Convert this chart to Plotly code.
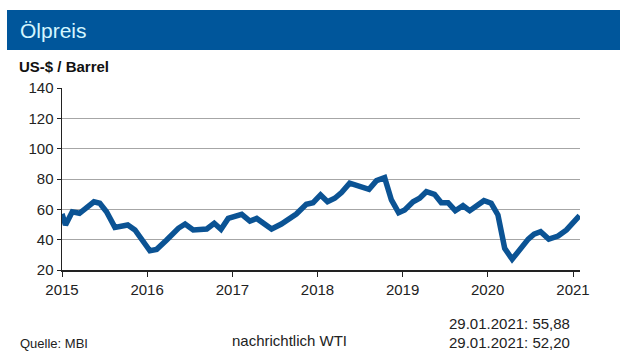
import plotly.graph_objects as go

dates = ["2015-01-01","2015-01-16","2015-02-14","2015-03-17","2015-05-18","2015-06-12","2015-07-11",
         "2015-08-16","2015-10-10","2015-11-10","2016-01-13","2016-02-11","2016-03-25","2016-05-14",
         "2016-06-12","2016-07-17","2016-09-13","2016-10-15","2016-11-13","2016-12-14","2017-02-10",
         "2017-03-17","2017-04-15","2017-06-18","2017-07-30","2017-10-02","2017-11-14","2017-12-13",
         "2018-01-14","2018-02-13","2018-03-16","2018-04-14","2018-05-19","2018-07-01","2018-08-10",
         "2018-09-11","2018-10-16","2018-11-14","2018-12-15","2019-01-10","2019-02-15","2019-03-15",
         "2019-04-13","2019-05-18","2019-06-16","2019-07-15","2019-08-15","2019-09-17","2019-10-16",
         "2019-12-16","2020-01-16","2020-02-14","2020-03-14","2020-04-15","2020-05-18","2020-06-23",
         "2020-07-18","2020-08-15","2020-09-19","2020-10-29","2020-12-04","2021-01-29"]
brent = [57, 49.7, 58.4, 57.4, 65, 64, 58.4,
         48.1, 49.7, 46.4, 32.7, 33.6, 39.8, 47.5,
         50.3, 46.4, 47, 50.8, 46.8, 54, 56.7,
         52.3, 54, 47, 50.3, 56.9, 63.3, 64.4,
         69.5, 65, 67.3, 71, 77.2, 75.4, 73.2,
         78.9, 80.9, 66.2, 57.8, 59.6, 65, 67.3,
         71.6, 69.9, 64.4, 64.4, 59.1, 62.4, 59.1,
         65.7, 64, 56.3, 34.3, 27.1, 33.6, 40.4,
         43.7, 45.3, 40.4, 42.4, 46.4, 55.88]

year_ticks = ["2015-01-01","2016-01-01","2017-01-01","2018-01-01","2019-01-01","2020-01-01","2021-01-01"]
year_labels = ["2015","2016","2017","2018","2019","2020","2021"]
y_ticks = [20, 40, 60, 80, 100, 120, 140]

FONT = "Liberation Sans, Arial, sans-serif"

fig = go.Figure()
fig.add_trace(go.Scatter(x=dates, y=brent, mode="lines",
                         line=dict(color="#0B5394", width=5.5), hoverinfo="skip"))

fig.update_layout(
    width=630, height=363,
    margin=dict(l=62, r=50, t=88, b=93),
    paper_bgcolor="white", plot_bgcolor="white",
    showlegend=False,
    font=dict(family=FONT, color="#222222"),
    xaxis=dict(type="date", range=["2015-01-01", "2021-01-31"],
               tickvals=year_ticks, ticktext=year_labels,
               showgrid=False, zeroline=False,
               showline=True, linecolor="#222222", linewidth=1.5,
               ticks="outside", ticklen=5, tickcolor="#222222",
               tickfont=dict(size=15, family=FONT, color="#222222")),
    yaxis=dict(range=[20, 140], tickvals=y_ticks,
               showgrid=True, gridcolor="#A6A6A6", gridwidth=1,
               zeroline=False,
               showline=True, linecolor="#222222", linewidth=1.5,
               ticks="outside", ticklen=4, tickcolor="#222222",
               tickfont=dict(size=15, family=FONT, color="#222222")),
    shapes=[dict(type="rect", xref="paper", yref="paper",
                 x0=-55/518, x1=558/518, y0=1 + 38/182, y1=1 + 78/182,
                 fillcolor="#00569B", line=dict(width=0), layer="above")],
    annotations=[
        dict(text="Ölpreis", xref="paper", yref="paper", x=-44/518, y=1 + 58/182,
             xanchor="left", yanchor="middle", showarrow=False,
             font=dict(size=21, color="#D4F6FF", family=FONT)),
        dict(text="<b>US-$ / Barrel</b>", xref="paper", yref="paper", x=-45/518, y=1 + 22/182,
             xanchor="left", yanchor="middle", showarrow=False,
             font=dict(size=15, color="#111111", family=FONT)),
        dict(text="Quelle: MBI", xref="paper", yref="paper", x=-44/518, y=-73/182,
             xanchor="left", yanchor="middle", showarrow=False,
             font=dict(size=13, color="#222222", family=FONT)),
        dict(text="nachrichtlich WTI", xref="paper", yref="paper", x=287/518, y=-70/182,
             xanchor="right", yanchor="middle", showarrow=False,
             font=dict(size=15, color="#222222", family=FONT)),
        dict(text="29.01.2021: 55,88", xref="paper", yref="paper", x=385/518, y=-53/182,
             xanchor="left", yanchor="middle", showarrow=False,
             font=dict(size=15, color="#222222", family=FONT)),
        dict(text="29.01.2021: 52,20", xref="paper", yref="paper", x=385/518, y=-72/182,
             xanchor="left", yanchor="middle", showarrow=False,
             font=dict(size=15, color="#222222", family=FONT)),
    ],
)

fig.write_html("out.html", config={"displayModeBar": False, "staticPlot": True},
               post_script="document.body.style.margin='0';")
